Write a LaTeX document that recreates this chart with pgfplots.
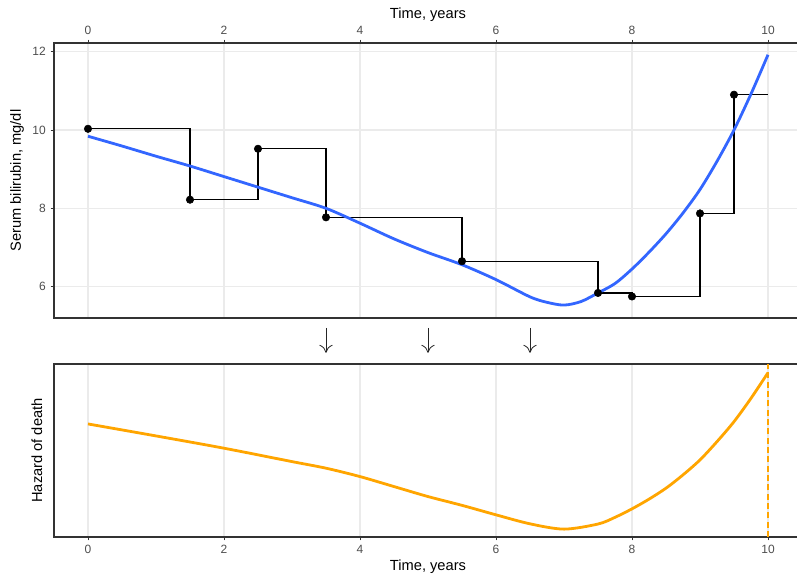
\documentclass[border=0pt]{standalone}
\usepackage{fontspec}
\setmainfont{Liberation Sans}
\usepackage{pgfplots}
\pgfplotsset{compat=1.18}
\usetikzlibrary{arrows.meta}
\definecolor{ggblue}{HTML}{3366FF}
\definecolor{ggorange}{HTML}{FFA500}
\definecolor{gggrid}{HTML}{EBEBEB}
\definecolor{ggaxis}{HTML}{333333}
\definecolor{ggtick}{HTML}{4D4D4D}
\pgfplotsset{
  ggpanel/.style={
    scale only axis, width=561pt,
    xmin=-0.5, xmax=10.5, xtick={0,2,...,10},
    axis line style={ggaxis, line width=0.8pt},
    tick style={ggaxis, line width=0.6pt},
    tick align=outside, major tick length=2.6pt,
    grid style={gggrid, line width=0.8pt},
    tick label style={font=\fontsize{9}{10}\selectfont, text=ggtick},
    label style={font=\fontsize{11}{13}\selectfont},
    /pgf/number format/assume math mode=true,
  },
}
\tikzset{
  ggarrow/.style={-{To[length=6pt,width=10pt]}, line width=0.6pt, black!85},
}
\begin{document}
\begin{tikzpicture}
\useasboundingbox (0,0) rectangle (597.75pt,-432pt);
% top panel: bilirubin measurements and smoothed trajectory
\begin{axis}[
  ggpanel, at={(40.5pt,-238.5pt)}, anchor=south west,
  height=206.25pt, ymin=5.2, ymax=12.22, ytick={6,8,10,12},
  xmajorgrids, ymajorgrids,
  xtick pos=upper, xticklabel pos=upper, ytick pos=left,
  xlabel={Time, years}, ylabel={Serum bilirubin, mg/dl},
  xlabel style={at={(axis description cs:0.5,1)}, anchor=center, yshift=21pt},
  ylabel style={at={(axis description cs:0,0.5)}, anchor=center, yshift=27.75pt},
  clip=false,
]
\addplot[black, line width=1pt, const plot mark left, mark=none] coordinates {
(0,10.03) (1.5,8.22) (2.5,9.52) (3.5,7.77) (5.5,6.65) (7.5,5.84) (8,5.75)
(9,7.87) (9.5,10.90) (10,10.90)
};
\addplot[ggblue, line width=2.1pt, smooth, mark=none] coordinates {
(0,9.84) (0.5,9.59) (1,9.33) (1.5,9.08) (2,8.81) (2.5,8.54) (3,8.27)
(3.5,8.00) (4,7.62) (4.5,7.22) (5,6.87) (5.5,6.56) (6,6.18) (6.5,5.74)
(6.75,5.60) (7,5.53) (7.25,5.62) (7.5,5.84) (7.75,6.08) (8,6.45)
(8.25,6.88) (8.5,7.35) (8.75,7.88) (9,8.48) (9.25,9.20) (9.5,10.00)
(9.75,10.92) (10,11.92)
};
\addplot[only marks, mark=*, mark size=2.8pt, black] coordinates {
(0,10.03) (1.5,8.22) (2.5,9.52) (3.5,7.77) (5.5,6.65) (7.5,5.84) (8,5.75)
(9,7.87) (9.5,10.90)
};
% arrows between the panels
\draw[ggarrow] (axis cs:3.5,4.95) -- (axis cs:3.5,4.31);
\draw[ggarrow] (axis cs:5,4.95) -- (axis cs:5,4.31);
\draw[ggarrow] (axis cs:6.5,4.95) -- (axis cs:6.5,4.31);
\end{axis}
% bottom panel: hazard of death
\begin{axis}[
  ggpanel, at={(40.5pt,-402.75pt)}, anchor=south west,
  height=129.75pt, ymin=-0.002, ymax=1.73, ytick=\empty,
  xmajorgrids, xtick pos=lower, xticklabel pos=lower,
  xlabel={Time, years}, ylabel={Hazard of death},
  xlabel style={at={(axis description cs:0.5,0)}, anchor=center, yshift=-22.5pt},
  ylabel style={at={(axis description cs:0,0.5)}, anchor=center, yshift=12.75pt},
]
\addplot[ggorange, line width=0.9pt, dash pattern=on 4.5pt off 2.5pt] coordinates {
(10,-0.002) (10,1.73)
};
\addplot[ggorange, line width=2.1pt, smooth, mark=none] coordinates {
(0,1.130) (1,1.010) (2,0.887) (3,0.753) (3.5,0.687) (4,0.603) (4.5,0.503)
(5,0.403) (5.5,0.315) (6,0.220) (6.5,0.130) (7,0.077) (7.5,0.128)
(7.75,0.195) (8,0.280) (8.25,0.377) (8.5,0.487) (8.75,0.620) (9,0.770)
(9.25,0.953) (9.5,1.153) (9.75,1.387) (10,1.643)
};
\end{axis}
\end{tikzpicture}
\end{document}
